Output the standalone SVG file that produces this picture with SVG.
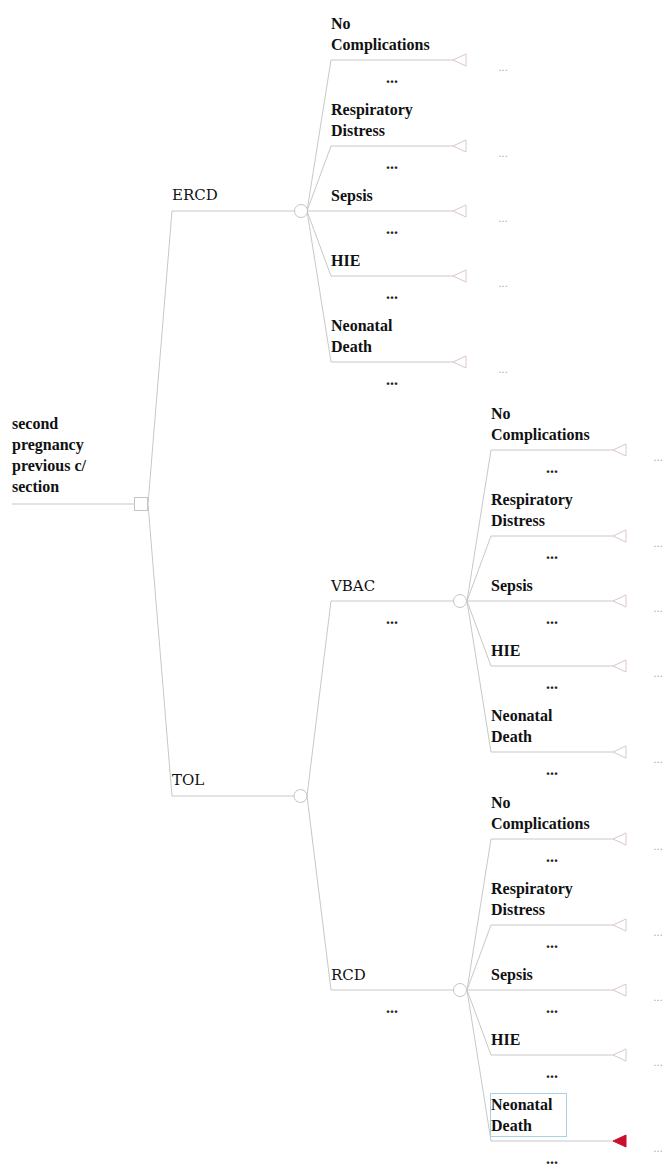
<svg xmlns="http://www.w3.org/2000/svg" width="670" height="1173" viewBox="0 0 670 1173">
<style>
.ln{stroke:#c8c8c8;stroke-width:1;fill:none}
.nd{stroke:#c4c4c4;stroke-width:1;fill:#fff}
.tri{stroke:#dcc6ca;stroke-width:1;fill:#fff}
.trired{stroke:#c8102e;stroke-width:1;fill:#c8102e}
.ob{font-family:"Liberation Serif","Times New Roman",serif;font-size:16px;font-weight:bold;fill:#111}
.dl{font-family:"DejaVu Serif","Liberation Serif",serif;font-size:15px;fill:#111}
.dots{font-family:"Liberation Serif","Times New Roman",serif;font-size:16px;font-weight:bold;fill:#222;text-anchor:middle}
.rd{font-family:"Liberation Sans",Arial,sans-serif;font-size:10px;fill:#999}
</style>
<rect width="670" height="1173" fill="#fff"/>
<g id="connectors">
<line class="ln" x1="12" y1="504" x2="134" y2="504"/>
<polyline class="ln" points="172,211 148,504 172,796"/>
<line class="ln" x1="172" y1="211" x2="295" y2="211"/>
<line class="ln" x1="172" y1="796" x2="294" y2="796"/>
<polyline class="ln" points="331,60 307,211 331,146"/>
<polyline class="ln" points="331,211 307,211"/>
<polyline class="ln" points="331,276 307,211 331,362"/>
<line class="ln" x1="331" y1="60" x2="453" y2="60"/>
<line class="ln" x1="331" y1="146" x2="453" y2="146"/>
<line class="ln" x1="331" y1="211" x2="453" y2="211"/>
<line class="ln" x1="331" y1="276" x2="453" y2="276"/>
<line class="ln" x1="331" y1="362" x2="453" y2="362"/>
<polyline class="ln" points="331,601 307,796 331,990"/>
<line class="ln" x1="331" y1="601" x2="453" y2="601"/>
<line class="ln" x1="331" y1="990" x2="453" y2="990"/>
<polyline class="ln" points="491,450 467,601 491,536"/>
<line class="ln" x1="467" y1="601" x2="491" y2="601"/>
<polyline class="ln" points="491,666 467,601 491,752"/>
<line class="ln" x1="491" y1="450" x2="613" y2="450"/>
<line class="ln" x1="491" y1="536" x2="613" y2="536"/>
<line class="ln" x1="491" y1="601" x2="613" y2="601"/>
<line class="ln" x1="491" y1="666" x2="613" y2="666"/>
<line class="ln" x1="491" y1="752" x2="613" y2="752"/>
<polyline class="ln" points="491,839 467,990 491,925"/>
<line class="ln" x1="467" y1="990" x2="491" y2="990"/>
<polyline class="ln" points="491,1055 467,990 491,1141"/>
<line class="ln" x1="491" y1="839" x2="613" y2="839"/>
<line class="ln" x1="491" y1="925" x2="613" y2="925"/>
<line class="ln" x1="491" y1="990" x2="613" y2="990"/>
<line class="ln" x1="491" y1="1055" x2="613" y2="1055"/>
<line class="ln" x1="491" y1="1141" x2="613" y2="1141"/>
</g>
<g id="root">
<rect class="nd" x="134.5" y="497.5" width="13" height="13"/>
<text class="ob" x="12" y="429">second</text>
<text class="ob" x="12" y="450">pregnancy</text>
<text class="ob" x="12" y="471">previous c/</text>
<text class="ob" x="12" y="492">section</text>
</g>
<g id="ercd">
<circle class="nd" cx="301" cy="211" r="6.5"/>
<text class="dl" x="172" y="200">ERCD</text>
</g>
<g id="ercd-nocomp">
<text class="ob" x="331" y="29">No</text><text class="ob" x="331" y="50">Complications</text>
<polygon class="tri" points="453,60 466,54 466,66"/>
<text class="dots" x="392" y="83">...</text><text class="rd" x="498" y="71">…</text>
</g>
<g id="ercd-resp">
<text class="ob" x="331" y="115">Respiratory</text><text class="ob" x="331" y="136">Distress</text>
<polygon class="tri" points="453,146 466,140 466,152"/>
<text class="dots" x="392" y="169">...</text><text class="rd" x="498" y="157">…</text>
</g>
<g id="ercd-sepsis">
<text class="ob" x="331" y="201">Sepsis</text>
<polygon class="tri" points="453,211 466,205 466,217"/>
<text class="dots" x="392" y="234">...</text><text class="rd" x="498" y="222">…</text>
</g>
<g id="ercd-hie">
<text class="ob" x="331" y="266">HIE</text>
<polygon class="tri" points="453,276 466,270 466,282"/>
<text class="dots" x="392" y="299">...</text><text class="rd" x="498" y="287">…</text>
</g>
<g id="ercd-death">
<text class="ob" x="331" y="331">Neonatal</text><text class="ob" x="331" y="352">Death</text>
<polygon class="tri" points="453,362 466,356 466,368"/>
<text class="dots" x="392" y="385">...</text><text class="rd" x="498" y="373">…</text>
</g>
<g id="tol">
<circle class="nd" cx="300.5" cy="796" r="6.5"/>
<text class="dl" x="172" y="785">TOL</text>
</g>
<g id="vbac">
<circle class="nd" cx="460" cy="601" r="6.5"/>
<text class="dl" x="331" y="591">VBAC</text>
<text class="dots" x="392" y="624">...</text>
</g>
<g id="vbac-nocomp">
<text class="ob" x="491" y="419">No</text><text class="ob" x="491" y="440">Complications</text>
<polygon class="tri" points="613,450 626,444 626,456"/>
<text class="dots" x="552" y="473">...</text><text class="rd" x="653" y="461">…</text>
</g>
<g id="vbac-resp">
<text class="ob" x="491" y="505">Respiratory</text><text class="ob" x="491" y="526">Distress</text>
<polygon class="tri" points="613,536 626,530 626,542"/>
<text class="dots" x="552" y="559">...</text><text class="rd" x="653" y="547">…</text>
</g>
<g id="vbac-sepsis">
<text class="ob" x="491" y="591">Sepsis</text>
<polygon class="tri" points="613,601 626,595 626,607"/>
<text class="dots" x="552" y="624">...</text><text class="rd" x="653" y="612">…</text>
</g>
<g id="vbac-hie">
<text class="ob" x="491" y="656">HIE</text>
<polygon class="tri" points="613,666 626,660 626,672"/>
<text class="dots" x="552" y="689">...</text><text class="rd" x="653" y="677">…</text>
</g>
<g id="vbac-death">
<text class="ob" x="491" y="721">Neonatal</text><text class="ob" x="491" y="742">Death</text>
<polygon class="tri" points="613,752 626,746 626,758"/>
<text class="dots" x="552" y="775">...</text><text class="rd" x="653" y="763">…</text>
</g>
<g id="rcd">
<circle class="nd" cx="460" cy="990" r="6.5"/>
<text class="dl" x="331" y="980">RCD</text>
<text class="dots" x="392" y="1013">...</text>
</g>
<g id="rcd-nocomp">
<text class="ob" x="491" y="808">No</text><text class="ob" x="491" y="829">Complications</text>
<polygon class="tri" points="613,839 626,833 626,845"/>
<text class="dots" x="552" y="862">...</text><text class="rd" x="653" y="850">…</text>
</g>
<g id="rcd-resp">
<text class="ob" x="491" y="894">Respiratory</text><text class="ob" x="491" y="915">Distress</text>
<polygon class="tri" points="613,925 626,919 626,931"/>
<text class="dots" x="552" y="948">...</text><text class="rd" x="653" y="936">…</text>
</g>
<g id="rcd-sepsis">
<text class="ob" x="491" y="980">Sepsis</text>
<polygon class="tri" points="613,990 626,984 626,996"/>
<text class="dots" x="552" y="1013">...</text><text class="rd" x="653" y="1001">…</text>
</g>
<g id="rcd-hie">
<text class="ob" x="491" y="1045">HIE</text>
<polygon class="tri" points="613,1055 626,1049 626,1061"/>
<text class="dots" x="552" y="1078">...</text><text class="rd" x="653" y="1066">…</text>
</g>
<g id="rcd-death">
<rect x="490.5" y="1093.5" width="76" height="43" fill="none" stroke="#a9d0e6" stroke-width="1"/>
<text class="ob" x="491" y="1110">Neonatal</text><text class="ob" x="491" y="1131">Death</text>
<polygon class="trired" points="613,1141 626,1135 626,1147"/>
<text class="dots" x="552" y="1164">...</text><text class="rd" x="653" y="1152">…</text>
</g>
</svg>
